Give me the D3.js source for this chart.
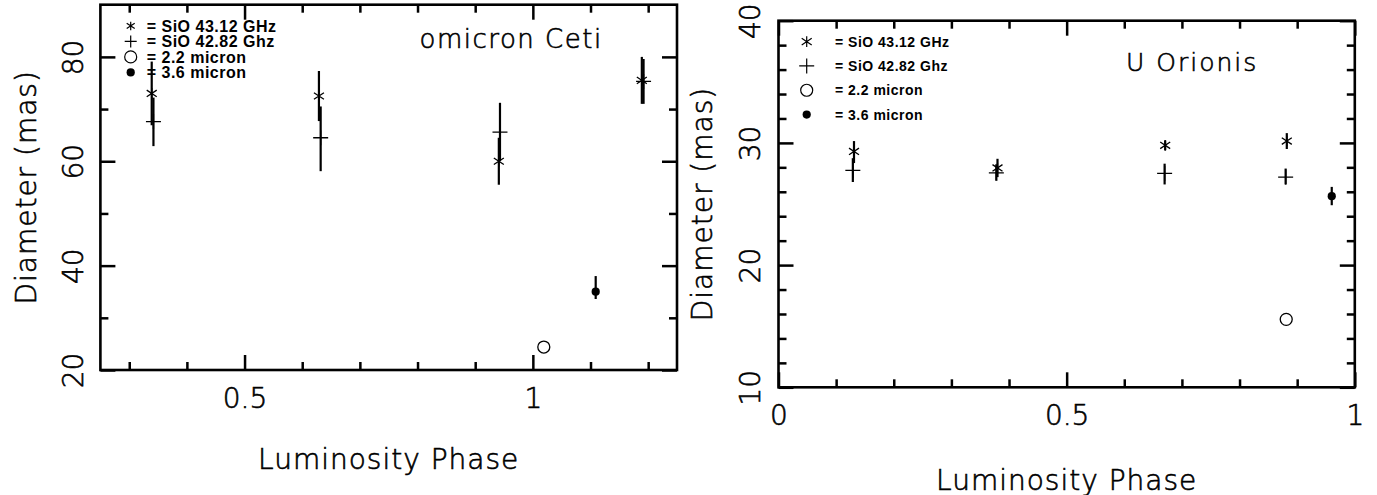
<!DOCTYPE html>
<html>
<head>
<meta charset="utf-8">
<script src="https://cdn.jsdelivr.net/npm/d3@7"></script>
<style>
body { margin: 0; background: #fff; }
svg { display: block; }
.lbl { font-family: "DejaVu Sans", sans-serif; font-weight: 200; fill: #000; stroke: #000; stroke-width: 0.6px; }
.leg { font-family: "Liberation Sans", Arial, sans-serif; font-weight: bold; fill: #000; }
</style>
</head>
<body>
<svg width="1377" height="495"></svg>
<script>
// omicron Ceti
const ceti43Phase = [0.339, 0.629, 0.941, 1.189];
const ceti43Diam  = [73.0, 72.5, 60.0, 75.5];
const ceti43Lo    = [66.9, 67.7, 55.5, 71.0];
const ceti43Hi    = [79.1, 77.3, 64.5, 80.0];
const ceti42Phase = [0.342, 0.632, 0.943, 1.192];
const ceti42Diam  = [67.6, 64.5, 65.6, 75.3];
const ceti42Lo    = [62.9, 58.1, 60.0, 71.0];
const ceti42Hi    = [72.2, 70.5, 71.2, 79.6];
const ceti22Phase = [1.019];
const ceti22Diam  = [24.4];
const ceti36Phase = [1.109];
const ceti36Diam  = [35.0];
const ceti36Lo    = [33.6];
const ceti36Hi    = [38.0];

// U Orionis
const uori43Phase = [0.131, 0.380, 0.671, 0.882];
const uori43Diam  = [29.3, 27.95, 29.8, 30.15];
const uori43Lo    = [28.35, 27.2, 29.4, 29.5];
const uori43Hi    = [30.15, 28.7, 30.2, 30.8];
const uori42Phase = [0.129, 0.378, 0.670, 0.880];
const uori42Diam  = [27.75, 27.55, 27.5, 27.2];
const uori42Lo    = [26.8, 26.9, 26.6, 26.6];
const uori42Hi    = [28.75, 28.25, 28.3, 27.9];
const uori22Phase = [0.881];
const uori22Diam  = [15.56];
const uori36Phase = [0.960];
const uori36Diam  = [25.64];
const uori36Lo    = [24.9];
const uori36Hi    = [26.4];

// ticks and labels
const cetiXMajor = [0.5, 1];
const cetiXMinor = [0.3, 0.4, 0.6, 0.7, 0.8, 0.9, 1.1, 1.2];
const cetiYMajor = [20, 40, 60, 80];
const cetiYMinor = [30, 50, 70];
const uoriXMajor = [0, 0.5, 1];
const uoriXMinor = [0.1, 0.2, 0.3, 0.4, 0.6, 0.7, 0.8, 0.9];
const uoriYMajor = [10, 20, 30, 40];
const uoriYMinor = [12, 14, 16, 18, 22, 24, 26, 28, 32, 34, 36, 38];
const legendLabels = ['= SiO 43.12 GHz', '= SiO 42.82 Ghz', '= 2.2 micron', '= 3.6 micron'];

const svg = d3.select('svg');

function zip(ph, d, lo, hi) {
    return ph.map(function(p, i) {
        return {p: p, d: d[i], lo: lo ? lo[i] : null, hi: hi ? hi[i] : null};
    });
}

function starPath(s) {
    const r = 5.3 * s, a = 5 * s, b = 3.3 * s;
    return `M0,${-r}V${r}M${-a},${-b}L${a},${b}M${-a},${b}L${a},${-b}`;
}
function plusPath(s) {
    const h = 7.5 * s;
    return `M${-h},0H${h}M0,${-h}V${h}`;
}

function drawPanel(p) {
    const x = d3.scaleLinear().domain(p.xDomain).range([p.left, p.right]);
    const y = d3.scaleLinear().domain(p.yDomain).range([p.bottom, p.top]);
    const g = svg.append('g');

    function ticks(axisFn, scale, vals, len, tr, fmt) {
        const a = g.append('g')
            .attr('transform', tr)
            .call(axisFn(scale).tickValues(vals).tickSize(-len).tickSizeOuter(0).tickFormat(fmt || ''));
        a.select('.domain').remove();
        a.selectAll('line').attr('stroke', '#000').attr('stroke-width', 2.5);
        a.attr('font-family', null).attr('font-size', null);
        return a;
    }

    ticks(d3.axisBottom, x, p.xMinor, 8, `translate(0,${p.bottom})`);
    ticks(d3.axisTop, x, p.xMinor, 8, `translate(0,${p.top})`);
    ticks(d3.axisTop, x, p.xMajor, 15, `translate(0,${p.top})`);
    ticks(d3.axisLeft, y, p.yMinor, 8, `translate(${p.left},0)`);
    ticks(d3.axisRight, y, p.yMinor, 8, `translate(${p.right},0)`);
    ticks(d3.axisRight, y, p.yMajor, 15, `translate(${p.right},0)`);

    const xb = ticks(d3.axisBottom, x, p.xMajor, 15, `translate(0,${p.bottom})`, d => String(d));
    xb.selectAll('text')
        .attr('class', 'lbl')
        .attr('font-size', 28)
        .attr('y', p.xTickBase - p.bottom)
        .attr('dy', 0);

    const yl = ticks(d3.axisLeft, y, p.yMajor, 15, `translate(${p.left},0)`, d => String(d));
    yl.selectAll('text')
        .attr('class', 'lbl')
        .attr('font-size', 28)
        .attr('text-anchor', 'middle')
        .attr('transform', 'rotate(-90)')
        .attr('x', 0)
        .attr('y', p.yTickBase - p.left)
        .attr('dy', 0);

    g.append('rect')
        .attr('x', p.left).attr('y', p.top)
        .attr('width', p.right - p.left).attr('height', p.bottom - p.top)
        .attr('fill', 'none').attr('stroke', '#000').attr('stroke-width', 2.6);

    g.append('text').attr('class', 'lbl')
        .attr('font-size', 28).attr('letter-spacing', 1)
        .attr('text-anchor', 'middle')
        .attr('x', (p.left + p.right) / 2).attr('y', p.xLabelBase)
        .text('Luminosity Phase');

    g.append('text').attr('class', 'lbl')
        .attr('font-size', 28).attr('letter-spacing', 1)
        .attr('text-anchor', 'middle')
        .attr('transform', `translate(${p.yLabelBase},${(p.top + p.bottom) / 2}) rotate(-90)`)
        .text('Diameter (mas)');

    g.append('text').attr('class', 'lbl')
        .attr('font-size', p.titleSize).attr('letter-spacing', p.titleSpacing)
        .attr('x', p.titleX).attr('y', p.titleY)
        .text(p.title);

    // error bars
    const bars = g.append('g').attr('stroke', '#000').attr('stroke-width', 2.2);
    [p.s43, p.s42, p.s36].forEach(function(s) {
        bars.selectAll(null).data(s).enter().append('line')
            .attr('x1', d => x(d.p)).attr('x2', d => x(d.p))
            .attr('y1', d => y(d.lo)).attr('y2', d => y(d.hi));
    });

    g.selectAll(null).data(p.s43).enter().append('path')
        .attr('d', starPath(1))
        .attr('transform', d => `translate(${x(d.p)},${y(d.d)})`)
        .attr('fill', 'none').attr('stroke', '#000').attr('stroke-width', 1.3);

    g.selectAll(null).data(p.s42).enter().append('path')
        .attr('d', plusPath(1))
        .attr('transform', d => `translate(${x(d.p)},${y(d.d)})`)
        .attr('fill', 'none').attr('stroke', '#000').attr('stroke-width', 1.3);

    g.selectAll(null).data(p.s22).enter().append('circle')
        .attr('cx', d => x(d.p)).attr('cy', d => y(d.d)).attr('r', 6)
        .attr('fill', '#fff').attr('stroke', '#000').attr('stroke-width', 1.3);

    g.selectAll(null).data(p.s36).enter().append('circle')
        .attr('cx', d => x(d.p)).attr('cy', d => y(d.d)).attr('r', 4.1)
        .attr('fill', '#000');

    // legend
    const lg = g.append('g');
    legendLabels.forEach(function(t, i) {
        const by = p.legY + i * p.legStep;
        const cy = by - p.legFont * 0.36;
        lg.append('text').attr('class', 'leg')
            .attr('font-size', p.legFont).attr('letter-spacing', 0.5)
            .attr('x', p.legTextX).attr('y', by)
            .text(t);
        const sym = lg.append('g').attr('transform', `translate(${p.legSymX},${cy})`);
        if (i === 0) sym.append('path').attr('d', starPath(p.legScale)).attr('fill', 'none').attr('stroke', '#000').attr('stroke-width', 1.2);
        if (i === 1) sym.append('path').attr('d', plusPath(p.legScale)).attr('fill', 'none').attr('stroke', '#000').attr('stroke-width', 1.2);
        if (i === 2) sym.append('circle').attr('r', 6).attr('fill', '#fff').attr('stroke', '#000').attr('stroke-width', 1.2);
        if (i === 3) sym.append('circle').attr('r', 4.1).attr('fill', '#000');
    });
}

drawPanel({
    left: 100.4, right: 677, top: 4.7, bottom: 370,
    xDomain: [0.25, 1.25], yDomain: [20, 90],
    xMajor: cetiXMajor, xMinor: cetiXMinor, yMajor: cetiYMajor, yMinor: cetiYMinor,
    xTickBase: 408, yTickBase: 82.6, xLabelBase: 469, yLabelBase: 36,
    title: 'omicron Ceti', titleX: 419.6, titleY: 48.3, titleSize: 26, titleSpacing: 1.5,
    legSymX: 130.7, legTextX: 146.7, legY: 31.7, legStep: 15.5, legFont: 16, legScale: 0.8,
    s43: zip(ceti43Phase, ceti43Diam, ceti43Lo, ceti43Hi),
    s42: zip(ceti42Phase, ceti42Diam, ceti42Lo, ceti42Hi),
    s22: zip(ceti22Phase, ceti22Diam),
    s36: zip(ceti36Phase, ceti36Diam, ceti36Lo, ceti36Hi)
});

drawPanel({
    left: 778.5, right: 1354.8, top: 20.7, bottom: 387.3,
    xDomain: [0, 1], yDomain: [10, 40],
    xMajor: uoriXMajor, xMinor: uoriXMinor, yMajor: uoriYMajor, yMinor: uoriYMinor,
    xTickBase: 425.4, yTickBase: 760, xLabelBase: 489.5, yLabelBase: 712,
    title: 'U Orionis', titleX: 1126, titleY: 70.7, titleSize: 25, titleSpacing: 2,
    legSymX: 806.7, legTextX: 835, legY: 46.7, legStep: 24.3, legFont: 14, legScale: 1,
    s43: zip(uori43Phase, uori43Diam, uori43Lo, uori43Hi),
    s42: zip(uori42Phase, uori42Diam, uori42Lo, uori42Hi),
    s22: zip(uori22Phase, uori22Diam),
    s36: zip(uori36Phase, uori36Diam, uori36Lo, uori36Hi)
});
</script>
</body>
</html>
